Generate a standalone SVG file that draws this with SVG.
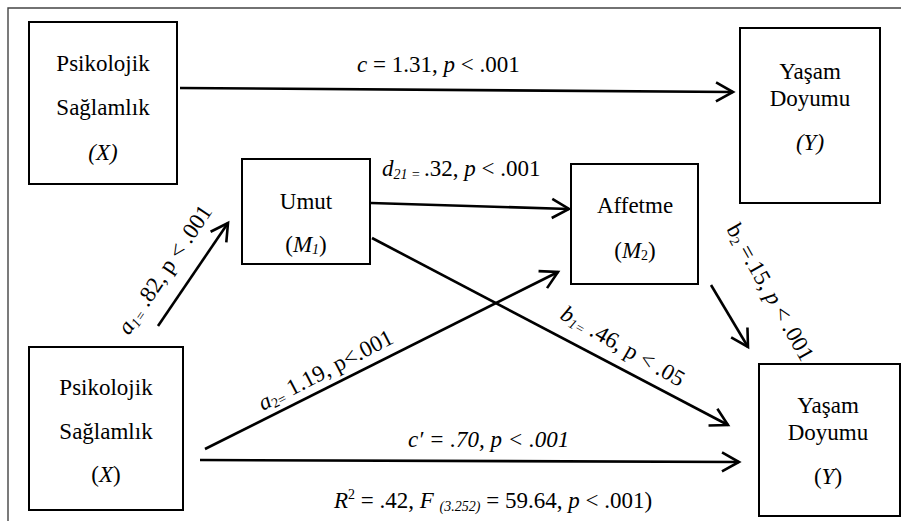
<svg xmlns="http://www.w3.org/2000/svg" width="901" height="521" viewBox="0 0 901 521">
<defs>
<style>
text{font-size:23px;fill:#000}
.c{text-anchor:middle}
.i{font-style:italic}
.box{fill:#fff;stroke:#000;stroke-width:2}
.ln{fill:none;stroke:#000;stroke-width:2.6;marker-end:url(#arr)}
.s{font-size:14px}
</style>
<marker id="arr" markerUnits="userSpaceOnUse" markerWidth="30" markerHeight="30" viewBox="-25 -15 30 30" refX="0" refY="0" orient="auto" overflow="visible">
<path d="M-17 -9.5 L0 0 L-17 9.5" fill="none" stroke="#000" stroke-width="2.6"/>
</marker>
</defs>
<rect width="901" height="521" fill="#fff"/>
<path d="M8 521 L8 8 L901 8" fill="none" stroke="#444" stroke-width="1.4"/>

<g id="connectors">
<path class="ln" d="M180 88 L733 92"/>
<path class="ln" d="M371 203 L569 209"/>
<path class="ln" d="M158 326 L228 223"/>
<path class="ln" d="M205 449 L558 272"/>
<path class="ln" d="M372 238 L728 425"/>
<path class="ln" d="M711 285 L748 347"/>
<path class="ln" d="M200 460 L739 462"/>
</g>

<g font-family="Liberation Serif, Times New Roman, Tinos, Noto Serif, FreeSerif, Nimbus Roman, DejaVu Serif, serif">
<g id="labels">
<text x="357" y="72"><tspan class="i">c</tspan> = 1.31, <tspan class="i">p</tspan> &lt; .001</text>
<text x="382" y="176"><tspan class="i">d</tspan><tspan class="i s" dy="3">21 = </tspan><tspan dy="-3">.32, </tspan><tspan class="i">p</tspan> &lt; .001</text>
<text transform="translate(129,336) rotate(-56)"><tspan class="i">a</tspan><tspan class="i s" dy="3">1=</tspan><tspan dy="-3"> .82, p &lt; .001</tspan></text>
<text transform="translate(263,411) rotate(-27.5)"><tspan class="i">a</tspan><tspan class="s" dy="3">2=</tspan><tspan dy="-3"> 1.19, p&lt;.001</tspan></text>
<text transform="translate(559,318) rotate(30)"><tspan class="i">b</tspan><tspan class="i s" dy="3">1=</tspan><tspan dy="-3"> .46, p &lt; .05</tspan></text>
<text transform="translate(726,229) rotate(60.5)">b<tspan class="s" dy="3">2</tspan><tspan dy="-3"> =.15, </tspan><tspan class="i">p</tspan> &lt; .001</text>
<text x="408" y="447" class="i">c′ = .70, p &lt; .001</text>
<text x="334" y="508"><tspan class="i">R</tspan><tspan class="s" dy="-9">2</tspan><tspan dy="9"> = .42, </tspan><tspan class="i">F</tspan> <tspan class="i s" dy="3">(3.252)</tspan><tspan dy="-3"> = 59.64, </tspan><tspan class="i">p</tspan> &lt; .001)</text>
</g>

<g id="node-x-top">
<rect class="box" x="29" y="22" width="148" height="162"/>
<text class="c" x="103" y="71">Psikolojik</text>
<text class="c" x="103" y="115">Sağlamlık</text>
<text class="c i" x="103" y="160">(X)</text>
</g>

<g id="node-y-top">
<rect class="box" x="740" y="28" width="140" height="175"/>
<text class="c" x="810" y="79">Yaşam</text>
<text class="c" x="810" y="106">Doyumu</text>
<text class="c i" x="810" y="150">(Y)</text>
</g>

<g id="node-umut">
<rect class="box" x="242" y="159" width="128" height="105"/>
<text class="c" x="306" y="209">Umut</text>
<text class="c" x="306" y="252">(<tspan class="i">M</tspan><tspan class="i s" dy="2">1</tspan><tspan dy="-2">)</tspan></text>
</g>

<g id="node-affetme">
<rect class="box" x="571" y="164" width="127" height="120"/>
<text class="c" x="635" y="213">Affetme</text>
<text class="c" x="635" y="258">(<tspan class="i">M</tspan><tspan class="s" dy="2">2</tspan><tspan dy="-2">)</tspan></text>
</g>

<g id="node-x-bottom">
<rect class="box" x="29" y="347" width="154" height="163"/>
<text class="c" x="106" y="395">Psikolojik</text>
<text class="c" x="106" y="439">Sağlamlık</text>
<text class="c" x="106" y="482">(<tspan class="i">X</tspan>)</text>
</g>

<g id="node-y-bottom">
<rect class="box" x="759" y="364" width="141" height="152"/>
<text class="c" x="828" y="413">Yaşam</text>
<text class="c" x="828" y="440">Doyumu</text>
<text class="c" x="828" y="484">(<tspan class="i">Y</tspan>)</text>
</g>
</g>
</svg>
